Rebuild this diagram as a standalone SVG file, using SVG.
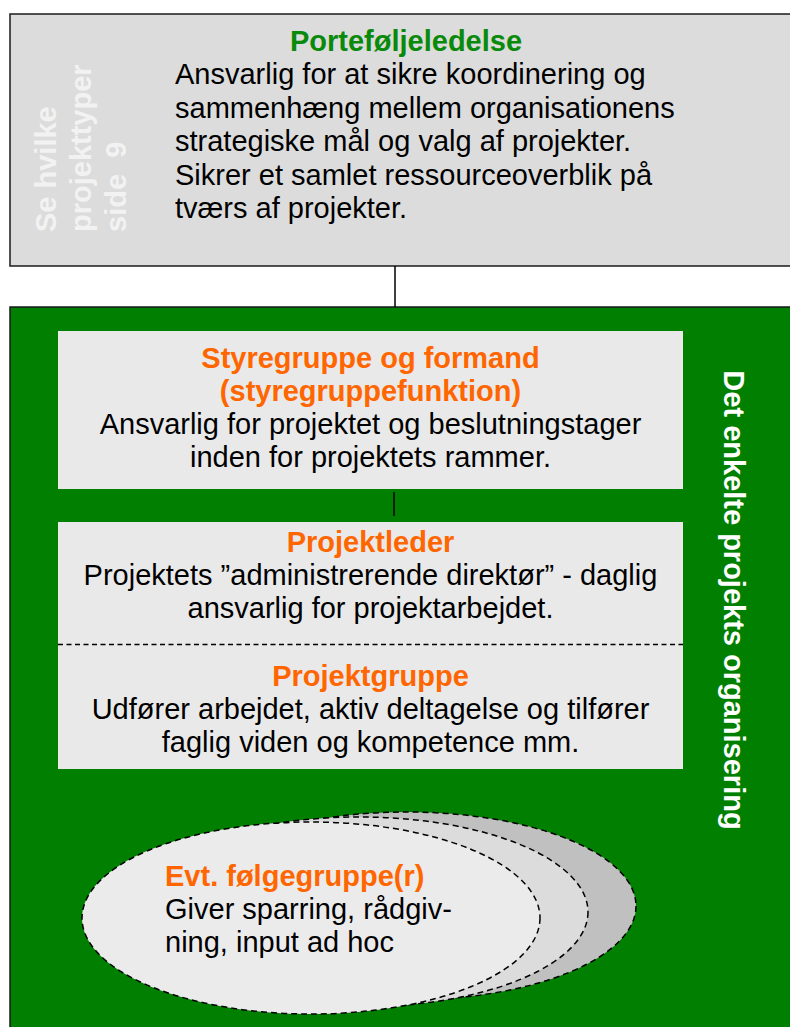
<svg xmlns="http://www.w3.org/2000/svg" width="790" height="1027" viewBox="0 0 790 1027">
<style>
text{font-family:"Liberation Sans",Arial,sans-serif;font-size:29px;fill:#000}
text.b{font-weight:bold}
text.green{fill:#0a8a0a}
text.orange{fill:#ff6600}
text.white{fill:#ffffff}
text.faint{fill:#f2f2f2}
text.mid{text-anchor:middle}
.frame{stroke:#1a1a1a;stroke-width:1.5}
.box{fill:#e9e9e9}
.dash{fill:none;stroke:#000;stroke-width:1.5;stroke-dasharray:5 3.5}
.edash{stroke:#000;stroke-width:1.5;stroke-dasharray:6 4}
.conn{stroke:#000;stroke-width:1.5;fill:none}
</style>
<rect width="790" height="1027" fill="#ffffff"/>
<g id="portefoljeledelse">
<rect class="frame" x="10" y="14" width="800" height="252" fill="#dcdcdc"/>
<text class="b green mid" x="406" y="51">Porteføljeledelse</text>
<text x="175" y="84">Ansvarlig for at sikre koordinering og</text>
<text x="175" y="117.5">sammenhæng mellem organisationens</text>
<text x="175" y="151">strategiske mål og valg af projekter.</text>
<text x="175" y="184.5">Sikrer et samlet ressourceoverblik på</text>
<text x="175" y="218">tværs af projekter.</text>
<g transform="rotate(-90)">
<text class="b faint" x="-232" y="56">Se hvilke</text>
<text class="b faint" x="-232" y="91">projekttyper</text>
<text class="b faint" x="-232" y="126" xml:space="preserve">side  9</text>
</g>
</g>
<g id="projekt-organisering">
<rect class="frame" x="10" y="307" width="800" height="740" fill="#007f00"/>
<text class="b white mid" transform="translate(724,600) rotate(90)" x="0" y="0">Det enkelte projekts organisering</text>
</g>
<g id="connectors">
<line class="conn" x1="395" y1="266" x2="395" y2="307"/>
<line class="conn" x1="394" y1="492" x2="394" y2="516"/>
</g>
<g id="styregruppe">
<rect class="box" x="58" y="331" width="625" height="158"/>
<text class="b orange mid" x="370.5" y="368">Styregruppe og formand</text>
<text class="b orange mid" x="370.5" y="401">(styregruppefunktion)</text>
<text class="mid" x="370.5" y="434">Ansvarlig for projektet og beslutningstager</text>
<text class="mid" x="370.5" y="467">inden for projektets rammer.</text>
</g>
<g id="projektleder">
<rect class="box" x="58" y="522" width="625" height="247"/>
<text class="b orange mid" x="370.5" y="552">Projektleder</text>
<text class="mid" x="370.5" y="585">Projektets ”administrerende direktør” - daglig</text>
<text class="mid" x="370.5" y="618">ansvarlig for projektarbejdet.</text>
<line class="dash" x1="58" y1="644.5" x2="683" y2="644.5"/>
</g>
<g id="projektgruppe">
<text class="b orange mid" x="370.5" y="686">Projektgruppe</text>
<text class="mid" x="370.5" y="719">Udfører arbejdet, aktiv deltagelse og tilfører</text>
<text class="mid" x="370.5" y="752">faglig viden og kompetence mm.</text>
</g>
<g id="folgegruppe">
<ellipse class="edash" cx="407" cy="906" rx="229" ry="94" fill="#c0c0c0"/>
<ellipse class="edash" cx="359" cy="912" rx="229" ry="95" fill="#dcdcdc"/>
<ellipse class="edash" cx="311" cy="918" rx="229" ry="96" fill="#ebebeb"/>
<text class="b orange" x="165" y="886">Evt. følgegruppe(r)</text>
<text x="165" y="919">Giver sparring, rådgiv-</text>
<text x="165" y="952">ning, input ad hoc</text>
</g>
</svg>
